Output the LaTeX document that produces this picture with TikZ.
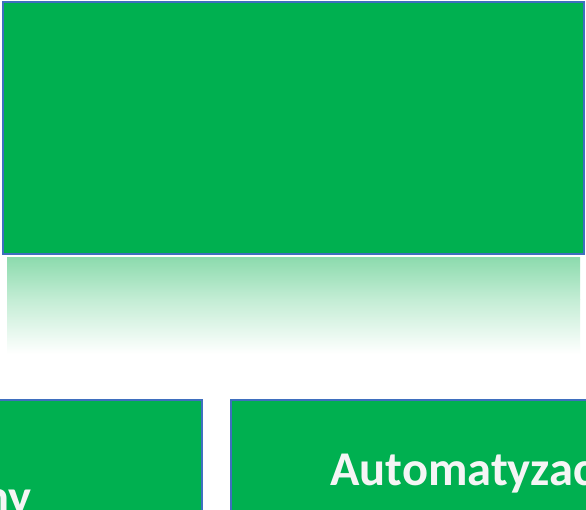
\documentclass[tikz,border=0pt]{standalone}
\usepackage{fontspec}
\setmainfont{Carlito}
\definecolor{boxgreen}{HTML}{00B050}
\definecolor{boxblue}{HTML}{3F6FBF}
\definecolor{reflgreen}{HTML}{8DDBAE}
\definecolor{reflmid}{HTML}{C4EDD5}
\tikzset{
  gbox/.style={draw=boxblue, line width=2pt, fill=boxgreen, rectangle, inner sep=0pt},
  btext/.style={text=white!96!black, font=\fontsize{48.5}{54}\selectfont\bfseries, inner sep=0pt}
}
\begin{document}
\begin{tikzpicture}[x=1pt, y=-1pt]
\useasboundingbox (0,0) rectangle (586,510);
\clip (0,0) rectangle (586,510);
\fill[white] (0,0) rectangle (586,510);
% top box
\node (top) [gbox, minimum width=581pt, minimum height=252pt] at (293.5,128) {};
% reflection
\shade[top color=reflgreen, bottom color=reflmid] (7,258) rectangle (580,300);
\shade[top color=reflmid, bottom color=white] (7,300) rectangle (580,354);
% bottom boxes
\node (left) [gbox, minimum width=222pt, minimum height=130pt] at (91,465) {};
\node (right) [gbox, minimum width=380pt, minimum height=130pt] at (421,465) {};
% texts
\node (ltext) [btext, anchor=base east] at (32,513) {ny};
\node (rtext) [btext, anchor=base west] at (330,485) {Automatyzac};
\end{tikzpicture}
\end{document}
